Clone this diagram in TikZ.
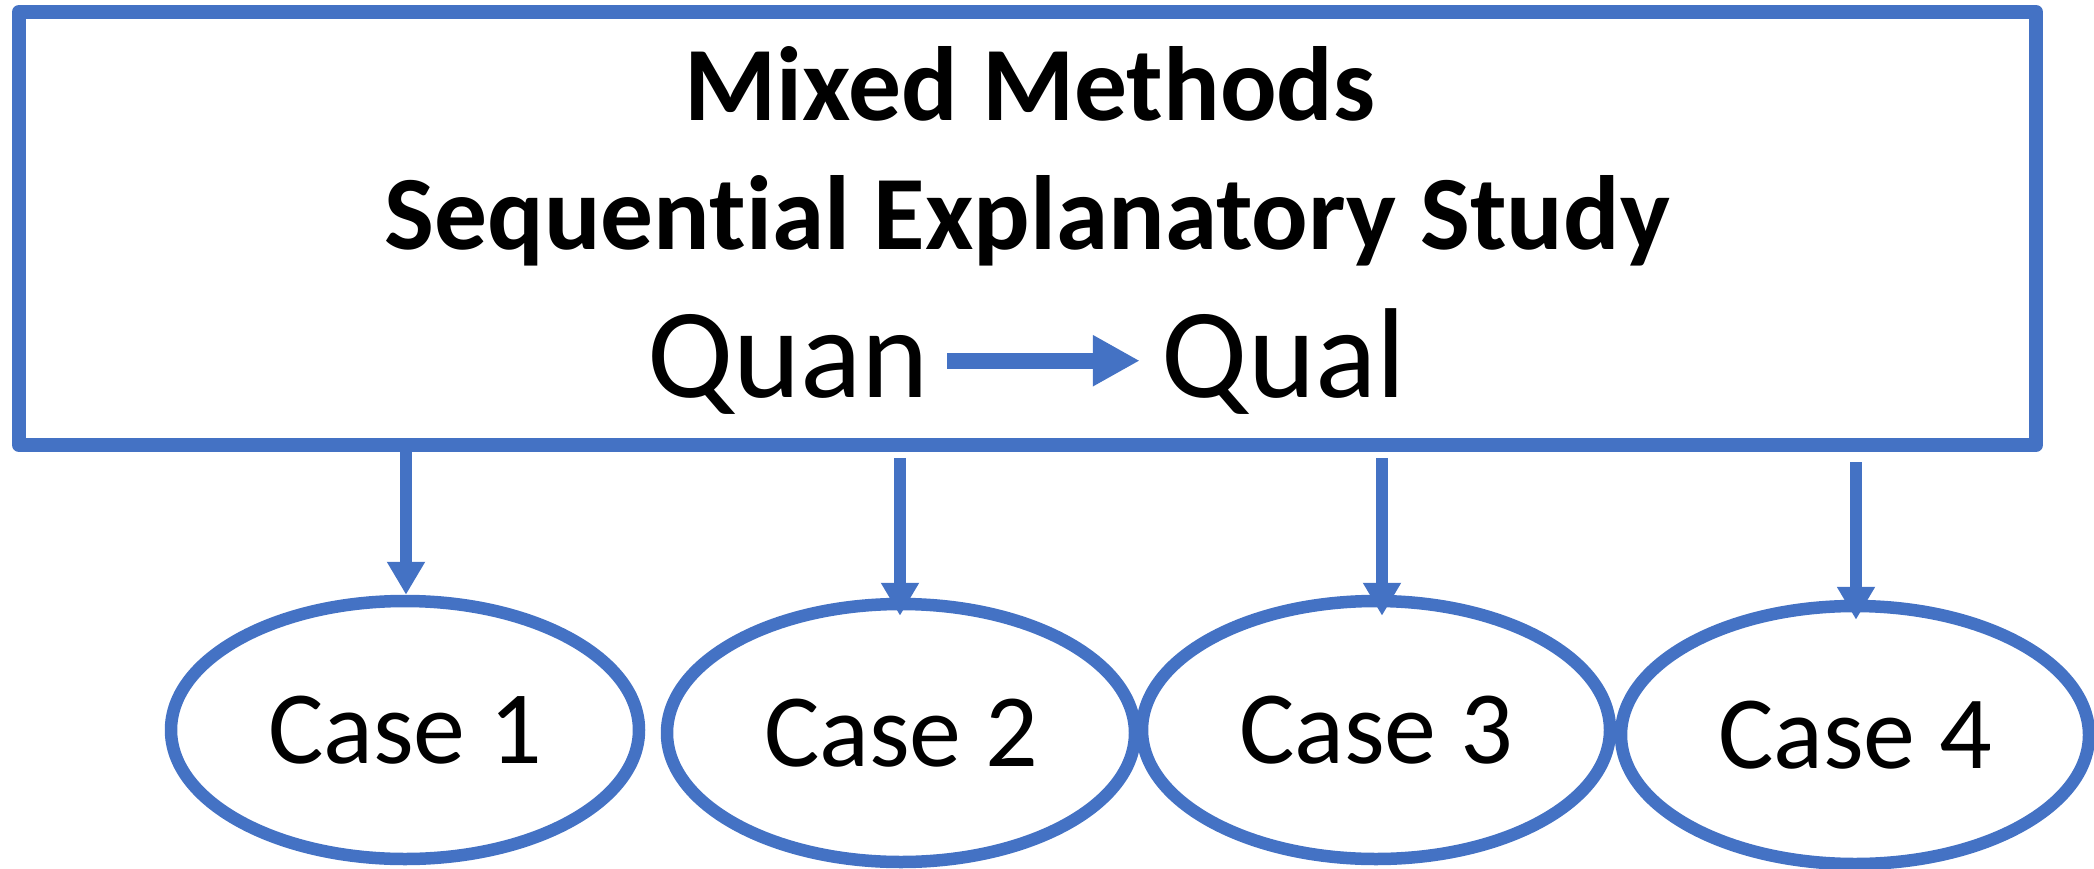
\documentclass[tikz,border=0pt]{standalone}
\usepackage{fontspec}
\setmainfont{Carlito}[Ligatures=NoCommon]
\usetikzlibrary{arrows.meta,shapes.geometric}
\definecolor{accent}{HTML}{4472C4}
\begin{document}
\begin{tikzpicture}[x=1pt,y=-1pt,
  frame/.style={draw=accent,line width=14pt,line join=round,rectangle,inner sep=0pt,
    minimum width=2017pt,minimum height=433pt},
  casebox/.style={draw=accent,line width=12.5pt,ellipse,inner sep=0pt,
    minimum width=468pt,minimum height=258pt,font=\fontsize{104}{125}\selectfont},
  title/.style={inner sep=0pt,anchor=base,font=\bfseries\fontsize{105.5}{127}\selectfont},
  term/.style={inner sep=0pt,anchor=base,font=\fontsize{128}{154}\selectfont},
  flow/.style={draw=accent,line width=16pt,-{Triangle[length=47pt,width=48pt]}},
  drop/.style={draw=accent,line width=12pt,-{Triangle[length=33pt,width=36pt]}}]

\useasboundingbox (0,0) rectangle (2094,869);

% design frame with its heading
\node[frame] (box) at (1027.5,228.5) {};
\node[title] (t1) at (1030,120.7) {Mixed Methods};
\node[title] (t2) at (1027,249.3) {Sequential Explanatory Study};
\node[term] (quan) at (788,397) {Quan};
\node[term] (qual) at (1284,397) {Qual};
\draw[flow] ([xshift=18pt,yshift=36.3pt]quan.base east) -- ([xshift=-22pt,yshift=36.3pt]qual.base west);

% the four cases
\node[casebox] (c1) at (405,730) {Case 1};
\node[casebox] (c2) at (901,733) {Case 2};
\node[casebox] (c3) at (1376,730) {Case 3};
\node[casebox] (c4) at (1855,735) {Case 4};

% arrows from the frame down to each case
\coordinate (e1) at ([xshift=1pt]c1.north);
\coordinate (e2) at ([xshift=-1pt,yshift=-18pt]c2.north);
\coordinate (e3) at ([xshift=6pt,yshift=-21pt]c3.north);
\coordinate (e4) at ([xshift=1pt,yshift=-20pt]c4.north);
\draw[drop] (box.south -| e1) -- (e1);
\draw[drop] ([yshift=-6pt]box.south -| e2) -- (e2);
\draw[drop] ([yshift=-6pt]box.south -| e3) -- (e3);
\draw[drop] ([yshift=-10pt]box.south -| e4) -- (e4);
\end{tikzpicture}
\end{document}
